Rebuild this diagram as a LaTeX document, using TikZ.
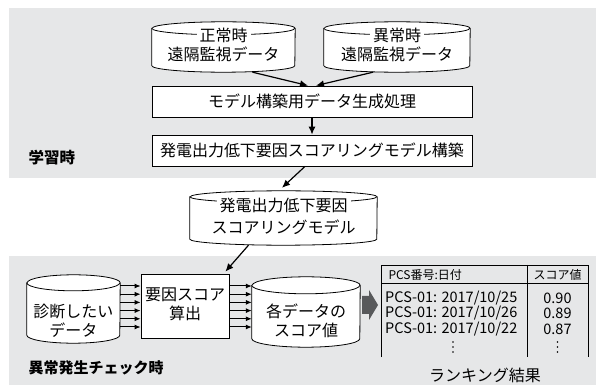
\documentclass[tikz,border=0pt]{standalone}
\usepackage{fontspec}
\setmainfont{Noto Sans CJK JP}
\usetikzlibrary{arrows.meta,positioning}
\definecolor{bandgray}{HTML}{E6E7E8}
\definecolor{blockgray}{HTML}{58595B}
\tikzset{
  dbspot/.style={rectangle, draw=none, inner sep=0pt},
  cyl/.style={line width=0.8pt, fill=white},
  procbox/.style={rectangle, draw, fill=white, line width=0.8pt, inner sep=0pt},
  flow/.style={-{Latex[length=8pt,width=7pt]}, line width=1.2pt},
  feed/.style={-{Latex[length=6pt,width=5pt]}, line width=1pt},
  txt/.style={font=\fontsize{16}{19}\selectfont, align=center, inner sep=0pt},
  cell/.style={font=\fontsize{14.5}{16}\selectfont, inner sep=0pt},
}
\begin{document}
\begin{tikzpicture}[x=1pt,y=-1pt]
    \useasboundingbox (0,0) rectangle (598,385);
    \fill[bandgray] (9,8) rectangle (596,178);
    \fill[bandgray] (9,256) rectangle (596,385);

    % places of the data stores
    \node[dbspot, minimum width=143pt, minimum height=50pt] (normal) at (223.5,47) {};
    \node[dbspot, minimum width=146pt, minimum height=50pt] (abnormal) at (397,47) {};
    \node[dbspot, minimum width=187pt, minimum height=54pt] (model) at (283.5,218) {};
    \node[dbspot, minimum width=93pt, minimum height=68pt] (diag) at (73.5,309) {};
    \node[dbspot, minimum width=108pt, minimum height=70pt] (score) at (306,312) {};
    \foreach \n/\rx/\ry in {normal/71.5/6.5, abnormal/73/6.5, model/93.5/6, diag/46.5/8, score/54/8.5} {
        \draw[cyl] ([yshift=-\ry pt]\n.north west) -- ([yshift=\ry pt]\n.south west)
            arc[start angle=180, end angle=360, x radius=\rx pt, y radius=\ry pt]
            -- ([yshift=-\ry pt]\n.north east)
            arc[start angle=0, end angle=180, x radius=\rx pt, y radius=\ry pt] -- cycle;
        \draw[cyl] ([yshift=-\ry pt]\n.north west)
            arc[start angle=180, end angle=360, x radius=\rx pt, y radius=\ry pt];
    }

    % learning phase
    \node[txt, fill=white, inner xsep=3pt] (normaltop) at (223.5,35) {正常時};
    \node[txt] (normalbot) at (223.5,54) {遠隔監視データ};
    \node[txt, fill=white, inner xsep=3pt] (abnormaltop) at (397,35) {異常時};
    \node[txt] (abnormalbot) at (397,54) {遠隔監視データ};

    \node[procbox, minimum width=320pt, minimum height=31pt] (gen) at (312,101.5) {};
    \node[txt] at (gen) {モデル構築用データ生成処理};
    \node[procbox, minimum width=320pt, minimum height=31pt] (build) at (312,150.5) {};
    \node[txt] at (build) {発電出力低下要因スコアリングモデル構築};
    \node[anchor=west, font=\fontsize{15.5}{18}\selectfont\bfseries] (learn) at (25,158) {学習時};

    \draw[flow] ([xshift=29pt]normal.south) -- ([xshift=-4pt]gen.north);
    \draw[flow] ([xshift=-24pt]abnormal.south) -- ([xshift=4pt]gen.north);
    \draw[flow] (gen) -- (build);

    % model
    \node[txt, fill=white, inner xsep=3pt] (modeltop) at (283.5,205) {発電出力低下要因};
    \node[txt] (modelbot) at (283.5,227) {スコアリングモデル};
    \draw[flow] ([xshift=-7pt]build.south) -- ([xshift=-1.5pt,yshift=3pt]model.north);

    % check phase
    \node[txt] (diagtxt) at (73.5,321) {診断したい\\データ};
    \node[procbox, minimum width=88pt, minimum height=64pt] (calc) at (185,306) {};
    \node[txt] (calctxt) at (185,304.5) {要因スコア\\算出};
    \node[txt] (scoretxt) at (306,321) {各データの\\スコア値};
    \draw[flow] ([xshift=-35pt]model.south) -- ([xshift=-4pt,yshift=2pt]calc.north east);
    \foreach \y in {286,294.2,302.4,310.6,318.8,327} {
        \draw[feed] (diag.east |- 0,\y) -- (calc.west |- 0,\y);
        \draw[feed] (calc.east |- 0,\y) -- (score.west |- 0,\y);
    }
    \fill[blockgray] (362,296) -- (369,296) -- (369,290) -- (378,305) -- (369,320) -- (369,314) -- (362,314) -- cycle;

    % ranking table
    \draw[line width=0.8pt] (381,357) -- (381,265) -- (588,265) -- (588,357);
    \draw[line width=0.8pt] (381,283) -- (588,283);
    \draw[line width=0.8pt] (527,265) -- (527,357);
    \node[anchor=west, font=\fontsize{12}{14}\selectfont] (head1) at (385,274.5) {PCS番号:日付};
    \node[font=\fontsize{12}{14}\selectfont] (head2) at (557.5,274.5) {スコア値};
    \node[cell, anchor=west] (r1) at (385,298) {PCS-01: 2017/10/25};
    \node[cell, anchor=west] (r2) at (385,313.5) {PCS-01: 2017/10/26};
    \node[cell, anchor=west] (r3) at (385,329) {PCS-01: 2017/10/22};
    \node[cell] (v1) at (557.5,298) {0.90};
    \node[cell] (v2) at (557.5,313.5) {0.89};
    \node[cell] (v3) at (557.5,329) {0.87};
    \foreach \x in {453,557.5}
        \foreach \y in {342,347,352}
            \fill (\x,\y) circle (0.9pt);

    \node[anchor=west, font=\fontsize{15}{18}\selectfont\bfseries] (check) at (25,368) {異常発生チェック時};
    \node[txt] (rank) at (485,375) {ランキング結果};
\end{tikzpicture}
\end{document}
